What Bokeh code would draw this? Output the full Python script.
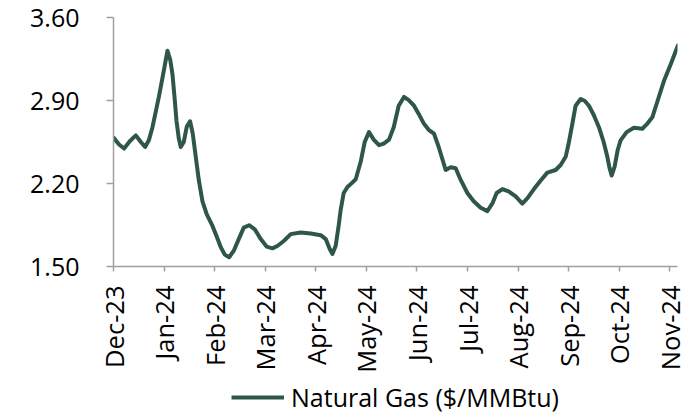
import math
from bokeh.plotting import figure
from bokeh.layouts import column
from bokeh.models import Range1d, FixedTicker, Legend, LegendItem, ColumnDataSource, NumeralTickFormatter
from bokeh.embed import file_html
from bokeh.resources import INLINE

# Month labels (tick every month, starting Dec-23)
month_labels = ["Dec-23", "Jan-24", "Feb-24", "Mar-24", "Apr-24", "May-24",
                "Jun-24", "Jul-24", "Aug-24", "Sep-24", "Oct-24", "Nov-24"]

# Time in months since start of Dec-23
months = [0.000, 0.105, 0.209, 0.322, 0.441, 0.540, 0.625, 0.698, 0.771, 0.901,
          0.994, 1.067, 1.123, 1.166, 1.206, 1.245, 1.291, 1.330, 1.389, 1.449,
          1.514, 1.567, 1.626, 1.686, 1.759, 1.844, 1.957, 2.042, 2.121, 2.200,
          2.285, 2.378, 2.476, 2.575, 2.680, 2.793, 2.911, 3.030, 3.142, 3.247,
          3.372, 3.504, 3.702, 3.899, 4.097, 4.196, 4.275, 4.328, 4.393, 4.453,
          4.492, 4.551, 4.625, 4.710, 4.789, 4.887, 4.966, 5.051, 5.144, 5.249,
          5.342, 5.447, 5.540, 5.638, 5.743, 5.836, 5.941, 6.034, 6.138, 6.231,
          6.336, 6.429, 6.567, 6.666, 6.765, 6.864, 6.996, 7.121, 7.259, 7.391,
          7.496, 7.575, 7.688, 7.812, 7.951, 8.083, 8.188, 8.312, 8.445, 8.577,
          8.741, 8.840, 8.939, 8.998, 9.071, 9.136, 9.235, 9.314, 9.399, 9.492,
          9.597, 9.690, 9.763, 9.808, 9.848, 9.907, 9.966, 10.025, 10.144, 10.288,
          10.455, 10.540, 10.652, 10.757, 10.881, 11.014, 11.158]

# Natural Gas price ($/MMBtu)
gas_price = [2.587, 2.531, 2.495, 2.556, 2.606, 2.550, 2.508, 2.564, 2.675, 2.939,
             3.150, 3.320, 3.240, 3.120, 2.930, 2.730, 2.580, 2.508, 2.550, 2.680,
             2.725, 2.620, 2.425, 2.230, 2.050, 1.940, 1.842, 1.750, 1.662, 1.600,
             1.578, 1.633, 1.731, 1.828, 1.848, 1.814, 1.731, 1.667, 1.653, 1.675,
             1.717, 1.773, 1.787, 1.778, 1.764, 1.731, 1.648, 1.606, 1.675, 1.850,
             1.980, 2.120, 2.170, 2.203, 2.236, 2.383, 2.550, 2.633, 2.570, 2.523,
             2.537, 2.570, 2.675, 2.856, 2.930, 2.903, 2.856, 2.787, 2.703, 2.653,
             2.620, 2.508, 2.314, 2.337, 2.328, 2.230, 2.120, 2.050, 1.995, 1.967,
             2.037, 2.120, 2.153, 2.133, 2.092, 2.031, 2.078, 2.153, 2.225, 2.292,
             2.314, 2.356, 2.425, 2.537, 2.703, 2.856, 2.912, 2.898, 2.856, 2.780,
             2.675, 2.550, 2.425, 2.328, 2.267, 2.342, 2.480, 2.564, 2.633, 2.670,
             2.662, 2.698, 2.758, 2.898, 3.064, 3.203, 3.364]

y_ticks = [1.50, 2.20, 2.90, 3.60]
series_name = "Natural Gas ($/MMBtu)"

LINE_COLOR = "#2f5747"
AXIS_COLOR = "#a0a0a0"
FONT = "Open Sans"

p = figure(width=700, height=375, output_backend="svg", toolbar_location=None,
           x_range=Range1d(0, 11.15), y_range=Range1d(1.5, 3.6),
           min_border_left=113, min_border_right=23, min_border_top=17,
           min_border_bottom=107)
p.outline_line_color = None
p.grid.visible = False
p.background_fill_color = "white"
p.border_fill_color = "white"

src = ColumnDataSource(dict(x=months, y=gas_price))
r = p.line("x", "y", source=src, line_color=LINE_COLOR, line_width=4,
           line_join="round", line_cap="round")

# Y axis
ya = p.yaxis[0]
ya.ticker = FixedTicker(ticks=y_ticks)
ya.formatter = NumeralTickFormatter(format="0.00")
ya.axis_line_color = AXIS_COLOR
ya.axis_line_width = 1.5
ya.major_tick_line_color = AXIS_COLOR
ya.major_tick_line_width = 1.5
ya.major_tick_in = 0
ya.major_tick_out = 7
ya.minor_tick_line_color = None
ya.major_label_text_font = FONT
ya.major_label_text_font_size = "25px"
ya.major_label_text_color = "#000000"
ya.major_label_standoff = 27

# X axis
xa = p.xaxis[0]
xa.ticker = FixedTicker(ticks=list(range(len(month_labels))))
xa.major_label_overrides = {i: lab for i, lab in enumerate(month_labels)}
xa.major_label_orientation = math.pi / 2
xa.axis_line_color = AXIS_COLOR
xa.axis_line_width = 1.5
xa.major_tick_line_color = AXIS_COLOR
xa.major_tick_line_width = 1.5
xa.major_tick_in = 0
xa.major_tick_out = 5
xa.minor_tick_line_color = None
xa.major_label_text_font = FONT
xa.major_label_text_font_size = "25.5px"
xa.major_label_text_color = "#000000"
xa.major_label_standoff = 14

# Legend strip below the chart (its line uses the same data, kept out of view)
pl = figure(width=700, height=41, output_backend="svg", toolbar_location=None,
            x_range=Range1d(100, 101), y_range=Range1d(100, 101),
            min_border_left=82, min_border_right=0, min_border_top=3,
            min_border_bottom=0)
pl.axis.visible = False
pl.grid.visible = False
pl.outline_line_color = None
rl = pl.line("x", "y", source=src, line_color=LINE_COLOR, line_width=4)
legend = Legend(items=[LegendItem(label=series_name, renderers=[rl])],
                location="center", orientation="horizontal",
                border_line_color=None, background_fill_alpha=0,
                glyph_width=53, glyph_height=20, label_standoff=7,
                label_text_font=FONT, label_text_font_size="25px",
                label_text_color="#000000", padding=0, margin=0, spacing=0)
pl.add_layout(legend, "center")

layout = column(p, pl, spacing=0)
open("out.html", "w").write(file_html(layout, INLINE))
